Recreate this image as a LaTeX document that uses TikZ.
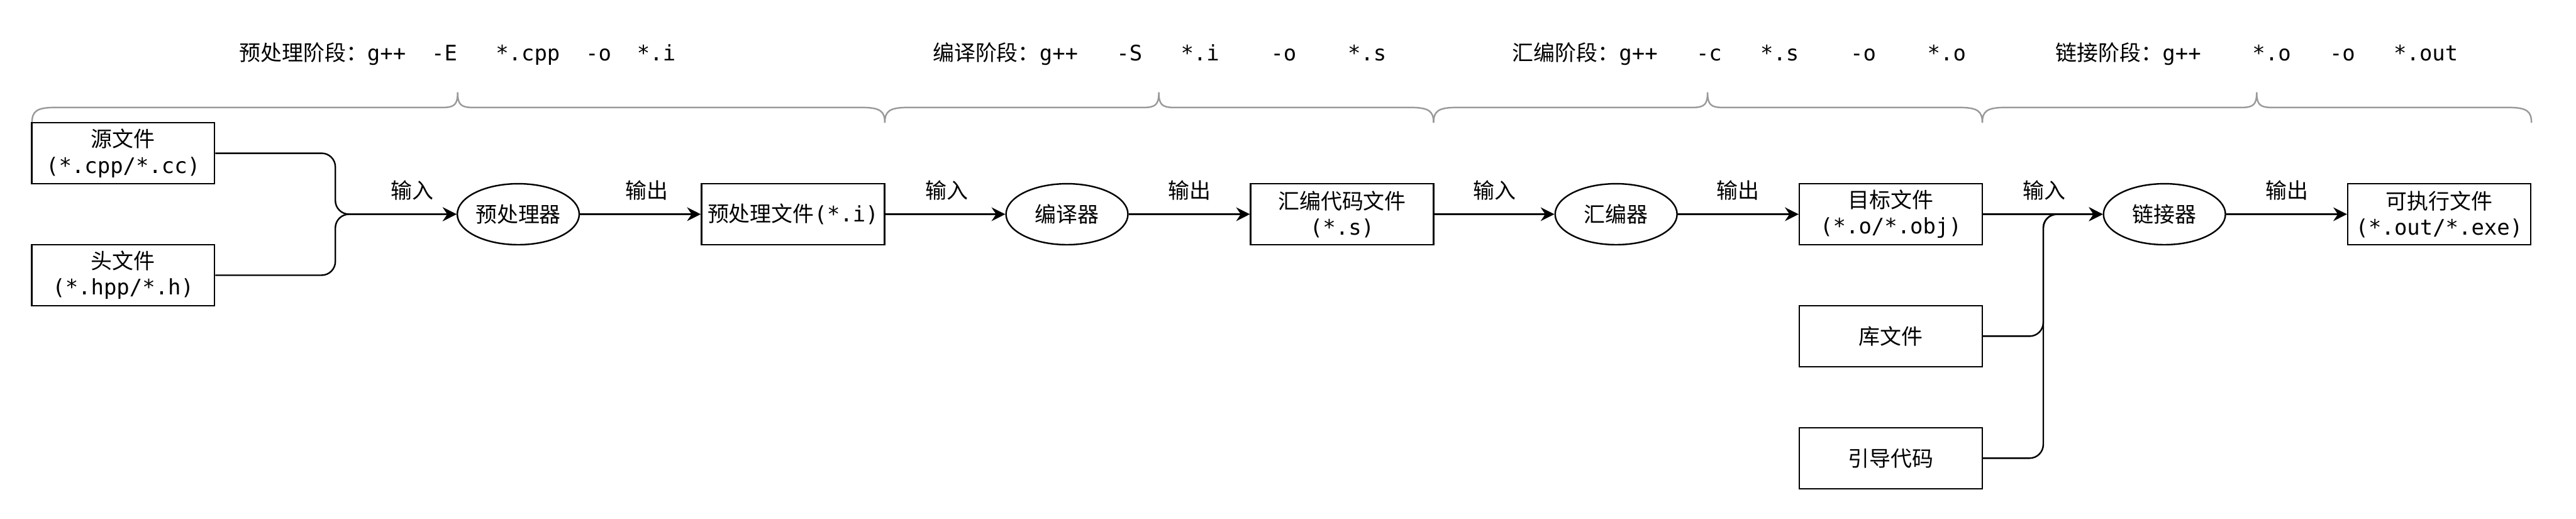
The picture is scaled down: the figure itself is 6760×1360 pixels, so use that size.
\documentclass[tikz,border=0pt]{standalone}
\usepackage{fontspec}
\setmainfont{DejaVu Sans Mono}
\newfontfamily\cjk{Noto Sans CJK SC}
\usetikzlibrary{arrows.meta,shapes.geometric}
\definecolor{bracegray}{RGB}{153,153,153}
\newcommand{\stagebrace}[3]{%
  \draw[bracebar] (#1,322) .. controls (#1,292) and ({#1+12},282) .. ({#1+60},282)
    -- ({#2-40},282) .. controls ({#2-8},282) and (#2,274) .. (#2,242)
    .. controls (#2,274) and ({#2+8},282) .. ({#2+40},282)
    -- ({#3-60},282) .. controls ({#3-12},282) and (#3,292) .. (#3,322);}
\begin{document}
\begin{tikzpicture}[x=0.25pt,y=-0.25pt,
  every node/.style={font=\fontsize{14}{17}\selectfont, inner sep=0pt},
  filebox/.style={draw, line width=1pt, minimum width=120pt, minimum height=40pt, align=center},
  proc/.style={draw, ellipse, line width=1pt, minimum width=80pt, minimum height=40pt},
  flow/.style={line width=1pt, -{Stealth[length=9pt,width=9pt,inset=3pt]}},
  feed/.style={line width=1pt, rounded corners=9pt},
  bracebar/.style={draw=bracegray, line width=1pt},
  stage/.style={anchor=west}
]
\fill[white] (0,0) rectangle (6760,1360);
\useasboundingbox (0,0) rectangle (6760,1360);

% stage labels
\node[stage] (s1) at (627,141) {{\cjk 预处理阶段：}g++~~-E~~~*.cpp~~-o~~*.i};
\node[stage] (s2) at (2447,141) {{\cjk 编译阶段：}g++~~~-S~~~*.i~~~~-o~~~~*.s};
\node[stage] (s3) at (3968,141) {{\cjk 汇编阶段：}g++~~~-c~~~*.s~~~~-o~~~~*.o};
\node[stage] (s4) at (5394,141) {{\cjk 链接阶段：}g++~~~~*.o~~~-o~~~*.out};

% braces
\stagebrace{84}{1201}{2322}
\stagebrace{2322}{3041}{3762}
\stagebrace{3762}{4481}{5202}
\stagebrace{5202}{5922}{6643}

% nodes
\node[filebox] (src) at (323,402) {{\cjk 源文件}\\(*.cpp/*.cc)};
\node[filebox] (hdr) at (323,722) {{\cjk 头文件}\\(*.hpp/*.h)};
\node[proc] (pre) at (1360,562) {\cjk 预处理器};
\node[filebox] (prefile) at (2081,562) {{\cjk 预处理文件}(*.i)};
\node[proc] (comp) at (2800,562) {\cjk 编译器};
\node[filebox] (asmfile) at (3522,562) {{\cjk 汇编代码文件}\\(*.s)};
\node[proc] (asm) at (4241,562) {\cjk 汇编器};
\node[filebox] (obj) at (4962,562) {{\cjk 目标文件}\\(*.o/*.obj)};
\node[proc] (link) at (5680,562) {\cjk 链接器};
\node[filebox] (exe) at (6401,562) {{\cjk 可执行文件}\\(*.out/*.exe)};
\node[filebox] (lib) at (4962,882) {\cjk 库文件};
\node[filebox] (boot) at (4962,1202) {\cjk 引导代码};

% edge labels
\node (l1) at (1082,499) {\cjk 输入};
\node (l2) at (1697,499) {\cjk 输出};
\node (l3) at (2484,499) {\cjk 输入};
\node (l4) at (3122,499) {\cjk 输出};
\node (l5) at (3922,499) {\cjk 输入};
\node (l6) at (4560,499) {\cjk 输出};
\node (l7) at (5364,499) {\cjk 输入};
\node (l8) at (6001,499) {\cjk 输出};

% connectors
\draw[feed,flow] (src.east) -- (880,402) -- (880,562) -- (pre.west);
\draw[feed,flow] (hdr.east) -- (880,722) -- (880,562) -- (pre.west);
\draw[flow] (pre) -- (prefile);
\draw[flow] (prefile) -- (comp);
\draw[flow] (comp) -- (asmfile);
\draw[flow] (asmfile) -- (asm);
\draw[flow] (asm) -- (obj);
\draw[flow] (obj) -- (link);
\draw[flow] (link) -- (exe);
\draw[feed,flow] (lib.east) -- (5362,882) -- (5362,562) -- (link.west);
\draw[feed,flow] (boot.east) -- (5362,1202) -- (5362,562) -- (link.west);
\end{tikzpicture}
\end{document}
